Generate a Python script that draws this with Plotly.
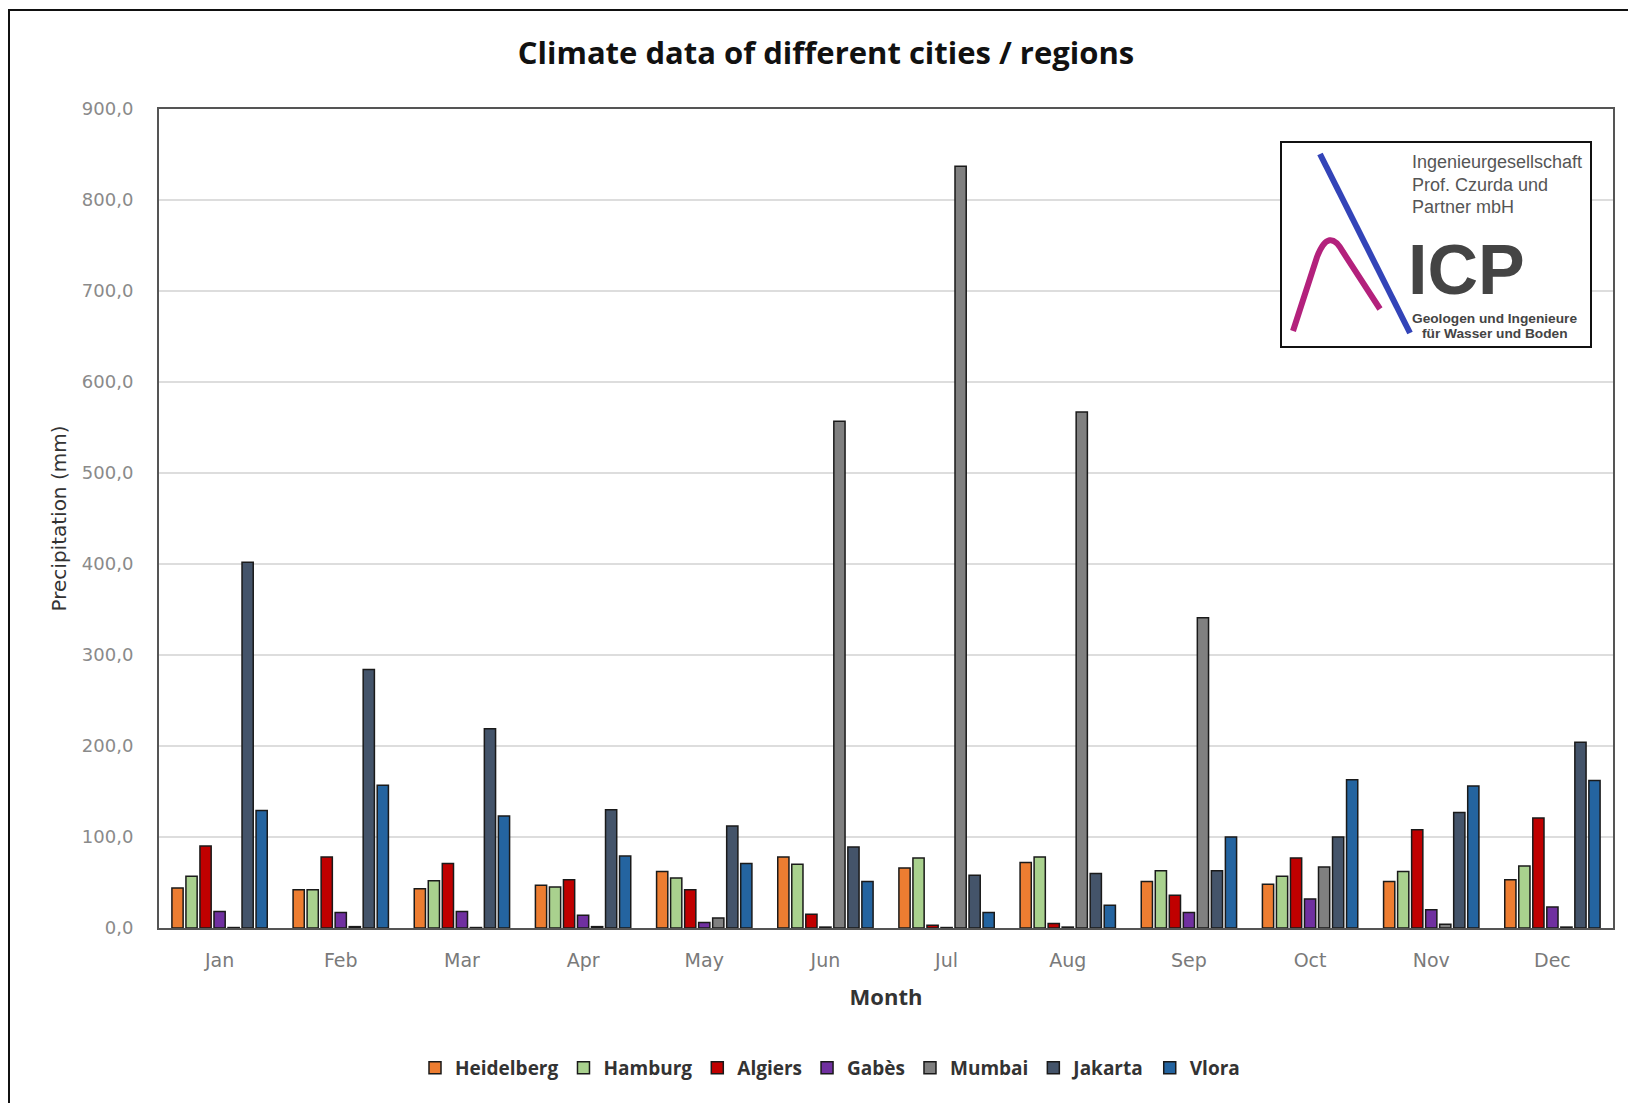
import plotly.graph_objects as go

months = ["Jan", "Feb", "Mar", "Apr", "May", "Jun", "Jul", "Aug", "Sep", "Oct", "Nov", "Dec"]

heidelberg = [44, 42, 43, 47, 62, 78, 66, 72, 51, 48, 51, 53]
hamburg    = [57, 42, 52, 45, 55, 70, 77, 78, 63, 57, 62, 68]
algiers    = [90, 78, 71, 53, 42, 15, 3, 5, 36, 77, 108, 121]
gabes      = [18, 17, 18, 14, 6, 1, 0.5, 1, 17, 32, 20, 23]
mumbai     = [0.5, 1.5, 0.5, 1.5, 11, 557, 837, 567, 341, 67, 4, 1]
jakarta    = [402, 284, 219, 130, 112, 89, 58, 60, 63, 100, 127, 204]
vlora      = [129, 157, 123, 79, 71, 51, 17, 25, 100, 163, 156, 162]

series_names = ["Heidelberg", "Hamburg", "Algiers", "Gabès", "Mumbai", "Jakarta", "Vlora"]
series_values = [heidelberg, hamburg, algiers, gabes, mumbai, jakarta, vlora]
series_colors = ["#ED7D31", "#A9D18E", "#C00000", "#7030A0", "#808080", "#44546A", "#2464A0"]

W, H = 1628, 1103
L, R, T, B = 159, 15, 109, 175
PW, PH = W - L - R, H - T - B

def px(x):
    return (x - L) / PW

def py(y):
    return (H - B - y) / PH

fig = go.Figure()
for name, vals, col in zip(series_names, series_values, series_colors):
    fig.add_trace(go.Bar(
        x=months, y=vals, name=name,
        marker=dict(color=col, line=dict(color="#1a1a1a", width=1.5)),
    ))

shapes = []
# outer frame
shapes.append(dict(type="rect", xref="paper", yref="paper",
                   x0=px(9), x1=px(1660), y0=py(1140), y1=py(10),
                   line=dict(color="#111", width=2), fillcolor="rgba(0,0,0,0)", layer="above"))
# logo box
shapes.append(dict(type="rect", xref="paper", yref="paper",
                   x0=px(1281), x1=px(1591), y0=py(347), y1=py(142),
                   line=dict(color="#111", width=2), fillcolor="white", layer="above"))
# blue stroke
shapes.append(dict(type="line", xref="paper", yref="paper",
                   x0=px(1320), y0=py(154), x1=px(1410), y1=py(333),
                   line=dict(color="#3344B8", width=6), layer="above"))
# magenta stroke
def P(x, y):
    return f"{px(x):.5f},{py(y):.5f}"
path = f"M {P(1293,331)} L {P(1317,257)} Q {P(1329,226)} {P(1343,252)} L {P(1380,309)}"
shapes.append(dict(type="path", xref="paper", yref="paper", path=path,
                   line=dict(color="#B3217C", width=6), layer="above"))

annotations = []
logo_font = "Liberation Sans, Arial, sans-serif"
for i, line in enumerate(["Ingenieurgesellschaft", "Prof. Czurda und", "Partner mbH"]):
    annotations.append(dict(xref="paper", yref="paper", x=px(1410), y=py(162 + 22.5 * i),
                            xanchor="left", yanchor="middle", showarrow=False, text=line,
                            font=dict(family=logo_font, size=18, color="#555")))
annotations.append(dict(xref="paper", yref="paper", x=px(1406), y=py(270),
                        xanchor="left", yanchor="middle", showarrow=False, text="<b>ICP</b>",
                        font=dict(family=logo_font, size=70, color="#444")))
annotations.append(dict(xref="paper", yref="paper", x=px(1410), y=py(318),
                        xanchor="left", yanchor="middle", showarrow=False, text="<b>Geologen und Ingenieure</b>",
                        font=dict(family=logo_font, size=13.7, color="#444")))
annotations.append(dict(xref="paper", yref="paper", x=px(1420), y=py(333),
                        xanchor="left", yanchor="middle", showarrow=False, text="<b>für Wasser und Boden</b>",
                        font=dict(family=logo_font, size=13.7, color="#444")))

fig.update_layout(
    width=W, height=H,
    margin=dict(l=L, r=R, t=T, b=B),
    paper_bgcolor="white", plot_bgcolor="white",
    separators=",.",
    barmode="group", bargap=0.19, bargroupgap=0.2,
    font=dict(family="Open Sans, sans-serif", color="#595959"),
    title=dict(text="<b>Climate data of different cities / regions</b>",
               x=826 / W, xanchor="center", y=1 - 53 / H, yanchor="middle", yref="container",
               font=dict(family="Open Sans, sans-serif", size=31, color="#111")),
    xaxis=dict(
        title=dict(text="<b>Month</b>", font=dict(family="Open Sans, sans-serif", size=22, color="#333"),
                   standoff=20),
        tickfont=dict(family="DejaVu Sans, sans-serif", size=19, color="#7a7a7a"),
        showline=True, linecolor="#555", linewidth=2, mirror=True,
        ticks="", ticklabelstandoff=14,
    ),
    yaxis=dict(
        title=dict(text="Precipitation (mm)", font=dict(family="DejaVu Sans, sans-serif", size=20, color="#333"),
                   standoff=10),
        tickfont=dict(family="DejaVu Sans, sans-serif", size=18, color="#8a8a8a"),
        range=[0, 900], dtick=100, tickformat=".1f",
        showgrid=True, gridcolor="#DDDDDD", gridwidth=1.5,
        showline=True, linecolor="#555", linewidth=2, mirror=True,
        ticks="", ticklabelstandoff=20, zeroline=False,
    ),
    legend=dict(orientation="h", x=830 / W, xref="container", xanchor="center",
                y=1 - 1068 / H, yref="container", yanchor="middle",
                font=dict(size=19, color="#333", family="Open Sans, sans-serif", weight="bold"),
                itemwidth=30, traceorder="normal"),
    shapes=shapes,
    annotations=annotations,
)

fig.write_html("out.html", config={"displayModeBar": False},
               post_script="document.body.style.margin='0px';")
